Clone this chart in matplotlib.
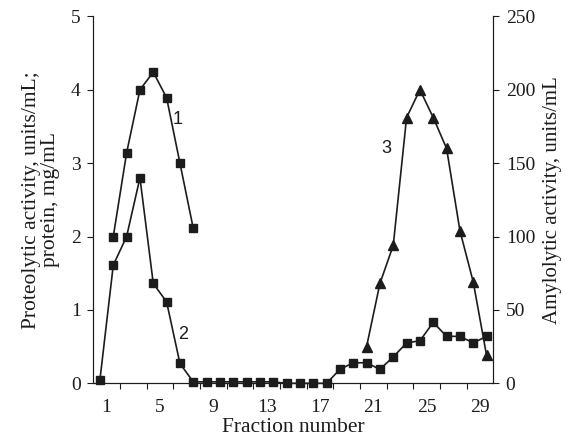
import matplotlib
matplotlib.use("Agg")
import matplotlib.pyplot as plt
import numpy as np

# ---- data ----
fractions = list(range(1, 31))                      # category positions 1..30
fraction_labels = [1, 5, 9, 13, 17, 21, 25, 29]

proteolytic_fr = list(range(2, 9))
proteolytic = [2.00, 3.14, 4.00, 4.24, 3.89, 3.00, 2.11]   # curve 1

protein = [0.05, 1.61, 2.00, 2.80, 1.36, 1.11, 0.27, 0.02, 0.02, 0.02,
           0.02, 0.02, 0.02, 0.02, 0.00, 0.00, 0.00, 0.00, 0.19, 0.28,
           0.28, 0.19, 0.36, 0.55, 0.58, 0.83, 0.64, 0.64, 0.55, 0.64]  # curve 2

amylolytic_fr = list(range(21, 31))
amylolytic = [25, 68, 94, 181, 200, 181, 160, 104, 69, 19]   # curve 3

C = "#1c1c1c"
SERIF = "Liberation Serif"
SANS = "Liberation Sans"

fig = plt.figure(figsize=(5.65, 4.41), dpi=100)
ax = fig.add_axes([0.1651, 0.1308, 0.873 - 0.1651, 0.963 - 0.1308])
ax2 = ax.twinx()

ax.plot(proteolytic_fr, proteolytic, color=C, lw=1.2, marker="s", ms=5.6,
        clip_on=False, zorder=3)
ax.plot(fractions, protein, color=C, lw=1.2, marker="s", ms=5.6,
        clip_on=False, zorder=3)
ax2.plot(amylolytic_fr, amylolytic, color=C, lw=1.2, marker="^", ms=6.5,
         clip_on=False, zorder=3)

ax.set_xlim(0.5, 30.5)
ax.set_ylim(0, 5)
ax2.set_ylim(0, 250)

for a in (ax, ax2):
    a.spines["top"].set_visible(False)
    for s in ("left", "right", "bottom"):
        a.spines[s].set_linewidth(0.8)
        a.spines[s].set_color(C)

# x ticks: marks at category-pair boundaries, labels between them
ax.set_xticks(np.arange(2.5, 30.5, 2), minor=True)
ax.set_xticks([f + 0.5 for f in fraction_labels])
ax.set_xticklabels([str(f) for f in fraction_labels], family=SERIF, fontsize=14)
ax.tick_params(axis="x", which="major", length=0, pad=11, colors=C)
ax.tick_params(axis="x", which="minor", length=4, width=0.8, direction="out", color=C)

ax.set_yticks([0, 1, 2, 3, 4, 5])
ax.set_yticklabels(["0", "1", "2", "3", "4", "5"], family=SERIF, fontsize=14)
ax.tick_params(axis="y", length=4, width=0.8, direction="out", pad=5, colors=C)

ax2.set_yticks([0, 50, 100, 150, 200, 250])
ax2.set_yticklabels(["0", "50", "100", "150", "200", "250"], family=SERIF, fontsize=14)
ax2.tick_params(axis="y", length=4, width=0.8, direction="out", pad=5, colors=C)

ax.set_xlabel("Fraction number", family=SERIF, fontsize=15.5, labelpad=2, color=C)
ax.set_ylabel("Proteolytic activity, units/mL;\nprotein, mg/mL", family=SERIF,
              fontsize=15.5, labelpad=8, color=C, linespacing=0.95)
ax2.set_ylabel("Amylolytic activity, units/mL", family=SERIF, fontsize=15,
               labelpad=6, color=C)

ax.text(6.85, 3.59, "1", family=SANS, fontsize=13, ha="center", va="center", color=C)
ax.text(7.23, 0.67, "2", family=SANS, fontsize=13, ha="center", va="center", color=C)
ax.text(22.5, 3.2, "3", family=SANS, fontsize=13, ha="center", va="center", color=C)

fig.savefig("out.png", dpi=100)
